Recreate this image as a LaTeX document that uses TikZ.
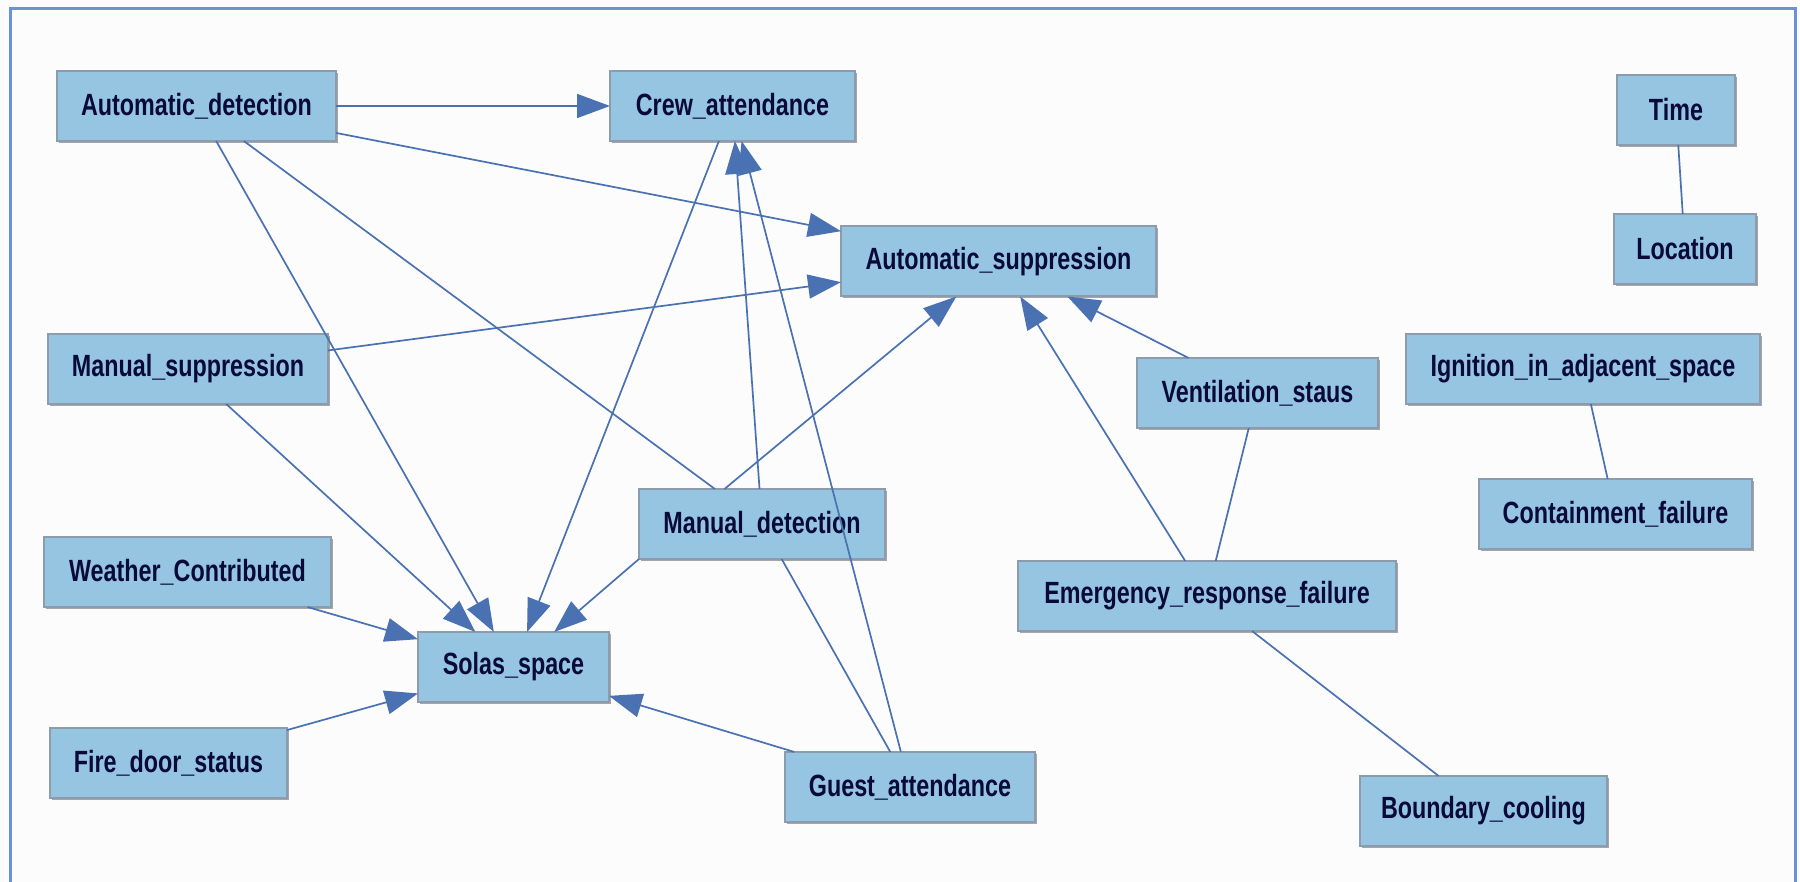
\documentclass[tikz,border=0pt]{standalone}
\usepackage{fontspec}
\usepackage{tikz}
\usetikzlibrary{arrows.meta,shadows}
\newfontfamily\netFont{Liberation Sans}[FakeStretch=0.76]
\newcommand{\pxUnit}[0]{1pt}
\definecolor{varFill}{HTML}{95C5E1}
\definecolor{varLine}{HTML}{8C9CAE}
\definecolor{varText}{HTML}{0A0A38}
\definecolor{edgeBlue}{HTML}{4A72B2}
\definecolor{frameBlue}{HTML}{6A92D4}
\definecolor{paper}{HTML}{FCFCFC}

\begin{document}
\begin{tikzpicture}[x=\pxUnit, y=-\pxUnit, >={Triangle[length=33pt,width=24pt]}]
  \tikzset{var node/.style={draw=varLine, line width=2pt, fill=varFill, text=varText,
      minimum height=70pt, inner xsep=4pt, outer sep=0pt,
      drop shadow={shadow xshift=1.5pt, shadow yshift=-2pt, fill=black!35, opacity=1},
      font=\netFont\bfseries\fontsize{30.7pt}{36pt}\selectfont}}
  \tikzset{dir edge/.style={->, draw=edgeBlue, line width=1.7pt}}
  \tikzset{undir edge/.style={draw=edgeBlue, line width=1.7pt}}
  \useasboundingbox (0,0) rectangle (1800,882);
  \fill[paper] (0,0) rectangle (1800,882);
  \draw[frameBlue, line width=3pt] (10,882) -- (10,9) -- (1795,9) -- (1795,882);

  \node[var node, minimum width=279pt] (AD) at (196.5,106) {Automatic\_detection};
  \node[var node, minimum width=245pt] (CA) at (732.5,106) {Crew\_attendance};
  \node[var node, minimum width=315pt] (AS) at (998.5,261.5) {Automatic\_suppression};
  \node[var node, minimum width=118pt] (T) at (1676,110) {Time};
  \node[var node, minimum width=142pt] (L) at (1685,249) {Location};
  \node[var node, minimum width=280pt] (MS) at (188,369) {Manual\_suppression};
  \node[var node, minimum width=241pt] (VS) at (1257.5,393) {Ventilation\_staus};
  \node[var node, minimum width=354pt] (IAS) at (1583,369) {Ignition\_in\_adjacent\_space};
  \node[var node, minimum width=273pt] (CF) at (1615.5,514) {Containment\_failure};
  \node[var node, minimum width=246pt] (MD) at (762,524) {Manual\_detection};
  \node[var node, minimum width=287pt] (WC) at (187.5,572) {Weather\_Contributed};
  \node[var node, minimum width=378pt] (ERF) at (1207,596) {Emergency\_response\_failure};
  \node[var node, minimum width=191pt] (SS) at (513.5,667) {Solas\_space};
  \node[var node, minimum width=237pt] (FD) at (168.5,763) {Fire\_door\_status};
  \node[var node, minimum width=250pt] (GA) at (910,787) {Guest\_attendance};
  \node[var node, minimum width=247pt] (BC) at (1483.5,811) {Boundary\_cooling};

  \draw[dir edge] (AD) -- (CA);
  \draw[dir edge] (AD) -- (AS);
  \draw[dir edge] (AD) -- (SS);
  \draw[undir edge] (AD) -- (MD);
  \draw[dir edge] (CA) -- (SS);
  \draw[dir edge] (MD) -- (CA);
  \draw[dir edge] (GA) -- (CA);
  \draw[dir edge] (MS) -- (AS);
  \draw[dir edge] (MS) -- (SS);
  \draw[dir edge] (MD.137) -- (AS);
  \draw[dir edge] (MD.south west) -- (SS);
  \draw[undir edge] (MD) -- (GA);
  \draw[dir edge] (GA) -- (SS);
  \draw[dir edge] (WC) -- (SS);
  \draw[dir edge] (FD) -- (SS);
  \draw[dir edge] (VS) -- (AS);
  \draw[undir edge] (VS) -- (ERF);
  \draw[dir edge] (ERF) -- (AS);
  \draw[undir edge] (ERF) -- (BC);
  \draw[undir edge] (T) -- (L);
  \draw[undir edge] (IAS) -- (CF);
\end{tikzpicture}
\end{document}
